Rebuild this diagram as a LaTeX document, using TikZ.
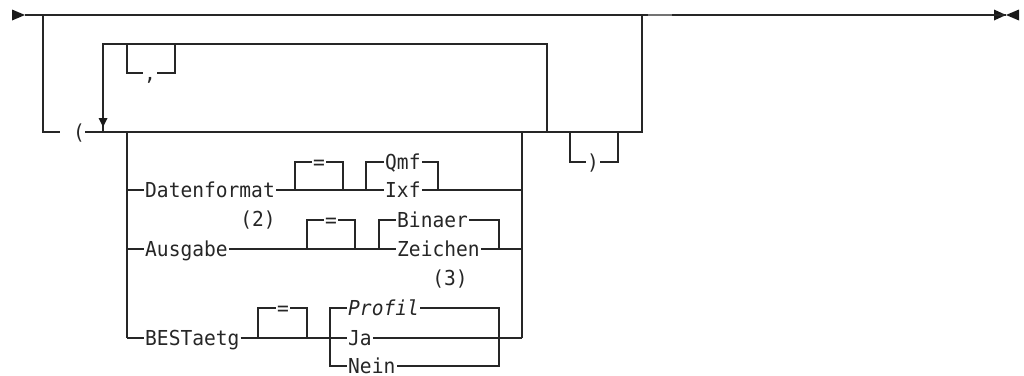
\documentclass[tikz,border=0pt]{standalone}
\usepackage{fontspec}
\newfontfamily\rr[FakeStretch=0.95]{DejaVu Sans Mono}
\begin{document}
\begin{tikzpicture}[x=1pt,y=-1pt,
  ln/.style={line width=1.1pt,draw=black!85},
  lbl/.style={font=\rr\fontsize{20.6}{22}\selectfont, text=black!85, inner xsep=1pt, inner ysep=0pt, text height=15pt, text depth=0pt},
  tri/.style={fill=black!90, draw=none}]
\useasboundingbox (0,0) rectangle (1024,375);
% main line
\coordinate (start) at (25,15);
\coordinate (end) at (1006,15);
\coordinate (ob) at (43,15);
\coordinate (orr) at (642,15);
\fill[tri] (12,9.5) -- (25,15) -- (12,20.5) -- cycle;
\fill[tri] (994,9.5) -- (1006,15) -- (994,20.5) -- cycle;
\fill[tri] (1019,9.5) -- (1006,15) -- (1019,20.5) -- cycle;
\draw[ln] (start) -- (end);
\draw[line width=1.6pt, black!55] (648,15) -- (672,15);
% opening parenthesis and bypass
\coordinate (lp1) at (60,132);
\coordinate (lp2) at (85,132);
\node[lbl, inner xsep=0pt] (lpar) at (79,132) {(};
\draw[ln] (ob) |- (lp1);
\coordinate (m642) at (642,132);
\draw[ln] (lp2) -- (m642) -- (orr);
% repeat loop
\coordinate (lt1) at (103,44);
\coordinate (lt2) at (547,44);
\coordinate (lb1) at (103,132);
\coordinate (lb2) at (547,132);
\draw[ln] (lb2) -- (lt2) -- (lt1) -- (lb1);
\fill[tri] (98.5,118) -- (107.5,118) -- (103,127) -- cycle;
\coordinate (c1) at (127,44);
\coordinate (c2) at (175,44);
\node[lbl] (comma) at (150,73) {,};
\draw[ln] (c1) |- (comma.west);
\draw[ln] (comma.east) -| (c2);
% closing parenthesis
\coordinate (p1) at (570,132);
\coordinate (p2) at (618,132);
\node[lbl] (rpar) at (593,162) {)};
\draw[ln] (p1) |- (rpar.west);
\draw[ln] (rpar.east) -| (p2);
% group rails
\coordinate (g1) at (127,132);
\coordinate (g2) at (522,132);
\coordinate (g1b) at (127,338);
\coordinate (g2b) at (522,338);
\draw[ln] (g1) -- (g1b);
\draw[ln] (g2) -- (g2b);
% Datenformat row
\node[lbl, anchor=west] (dat) at (144,190) {Datenformat};
\draw[ln] (dat.west -| g1) -- (dat.west);
\coordinate (d1) at (295,190);
\coordinate (d2) at (343,190);
\node[lbl] (eqd) at (319,162) {=};
\draw[ln] (d1) |- (eqd.west);
\draw[ln] (eqd.east) -| (d2);
\node[lbl, anchor=west] (ixf) at (384,190) {Ixf};
\node[lbl, anchor=west] (qmf) at (384,162) {Qmf};
\coordinate (q1) at (366,190);
\coordinate (q2) at (438,190);
\draw[ln] (dat.east) -- (ixf.west);
\draw[ln] (q1) |- (qmf.west);
\draw[ln] (qmf.east) -| (q2);
\draw[ln] (ixf.east) -- (ixf.east -| g2);
% Ausgabe row
\node[lbl, anchor=west] (aus) at (144,249) {Ausgabe};
\draw[ln] (aus.west -| g1) -- (aus.west);
\node[lbl] (n2) at (258,219) {(2)};
\coordinate (a1) at (307,249);
\coordinate (a2) at (355,249);
\node[lbl] (eqa) at (331,220) {=};
\draw[ln] (a1) |- (eqa.west);
\draw[ln] (eqa.east) -| (a2);
\node[lbl, anchor=west] (zei) at (396,249) {Zeichen};
\node[lbl, anchor=west] (bin) at (396,220) {Binaer};
\coordinate (z1) at (379,249);
\coordinate (z2) at (499,249);
\draw[ln] (aus.east) -- (zei.west);
\draw[ln] (z1) |- (bin.west);
\draw[ln] (bin.east) -| (z2);
\draw[ln] (zei.east) -- (zei.east -| g2);
% BESTaetg row
\node[lbl, anchor=west] (best) at (144,338) {BESTaetg};
\draw[ln] (g1b) -- (best.west);
\coordinate (e1) at (258,338);
\coordinate (e2) at (307,338);
\node[lbl] (eqb) at (283,308) {=};
\draw[ln] (e1) |- (eqb.west);
\draw[ln] (eqb.east) -| (e2);
\node[lbl] (n3) at (450,278) {(3)};
\node[lbl, anchor=west] (prof) at (347,308) {\itshape Profil};
\node[lbl, anchor=west] (ja) at (347,338) {Ja};
\node[lbl, anchor=west] (nein) at (347,366) {Nein};
\coordinate (b1) at (330,308);
\coordinate (b1b) at (330,366);
\coordinate (b2) at (499,308);
\coordinate (b2b) at (499,366);
\draw[ln] (best.east) -- (ja.west);
\draw[ln] (ja.east) -- (g2b);
\draw[ln] (prof.west) -- (b1) -- (b1b) -- (nein.west);
\draw[ln] (prof.east) -- (b2) -- (b2b) -- (nein.east);
\end{tikzpicture}
\end{document}
